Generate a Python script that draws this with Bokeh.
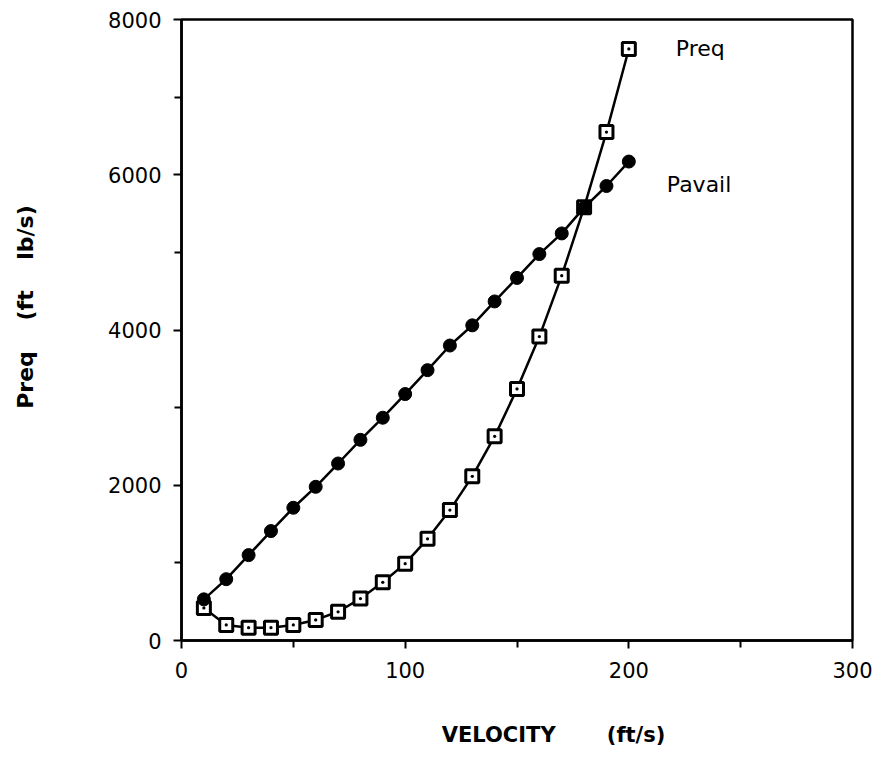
from bokeh.plotting import figure
from bokeh.models import Range1d, FixedTicker, Label
from bokeh.embed import file_html
from bokeh.resources import INLINE

velocity = [10, 20, 30, 40, 50, 60, 70, 80, 90, 100,
            110, 120, 130, 140, 150, 160, 170, 180, 190, 200]
preq = [420, 200, 165, 165, 200, 265, 370, 540, 750, 990,
        1310, 1680, 2115, 2630, 3240, 3915, 4700, 5580, 6550, 7620]
pavail = [530, 790, 1100, 1410, 1710, 1980, 2280, 2585, 2870, 3175,
          3483, 3800, 4060, 4368, 4671, 4978, 5244, 5577, 5855, 6170]

x_major = [0, 100, 200, 300]
x_minor = [50, 150, 250]
y_major = [0, 2000, 4000, 6000, 8000]
y_minor = [1000, 3000, 5000, 7000]

FONT = "DejaVu Sans"
NB = "\u00a0"

p = figure(width=880, height=769, output_backend="svg", toolbar_location=None,
           x_range=Range1d(0, 300), y_range=Range1d(0, 8000),
           min_border_left=181, min_border_right=28, min_border_top=19,
           min_border_bottom=129)
p.grid.visible = False
p.outline_line_color = "black"
p.outline_line_width = 2.5

for ax, maj, mnr in ((p.xaxis[0], x_major, x_minor), (p.yaxis[0], y_major, y_minor)):
    ax.ticker = FixedTicker(ticks=maj, minor_ticks=mnr)
    ax.axis_line_width = 2.5
    ax.major_tick_line_width = 2
    ax.minor_tick_line_width = 2
    ax.major_tick_in = 0
    ax.major_tick_out = 8
    ax.minor_tick_in = 0
    ax.minor_tick_out = 7
    ax.major_label_text_font = FONT
    ax.major_label_text_font_size = "21px"
    ax.major_label_text_color = "black"
    ax.major_label_standoff = 12
    ax.axis_label_text_font = FONT
    ax.axis_label_text_font_style = "bold"
    ax.axis_label_text_color = "black"

p.xaxis[0].major_label_standoff = 13
p.xaxis[0].axis_label = NB * 10 + "VELOCITY" + NB * 7 + "(ft/s)"
p.xaxis[0].axis_label_text_font_size = "21px"
p.xaxis[0].axis_label_standoff = 42
p.yaxis[0].axis_label = NB * 6 + "Preq" + NB * 4 + "(ft" + NB * 4 + "lb/s)"
p.yaxis[0].axis_label_text_font_size = "22px"
p.yaxis[0].axis_label_standoff = 67

p.line(velocity, preq, line_color="black", line_width=2.5)
p.scatter(velocity, preq, marker="square_dot", size=13, fill_color="white",
          line_color="black", line_width=3)
p.line(velocity, pavail, line_color="black", line_width=2.5)
p.scatter(velocity, pavail, marker="circle", size=13, fill_color="black",
          line_color="black")

p.add_layout(Label(x=221, y=7620, text="Preq", text_font=FONT,
                   text_font_size="22px", text_baseline="middle",
                   text_color="black"))
p.add_layout(Label(x=217, y=5880, text="Pavail", text_font=FONT,
                   text_font_size="22px", text_baseline="middle",
                   text_color="black"))

open("out.html", "w").write(file_html(p, INLINE))
